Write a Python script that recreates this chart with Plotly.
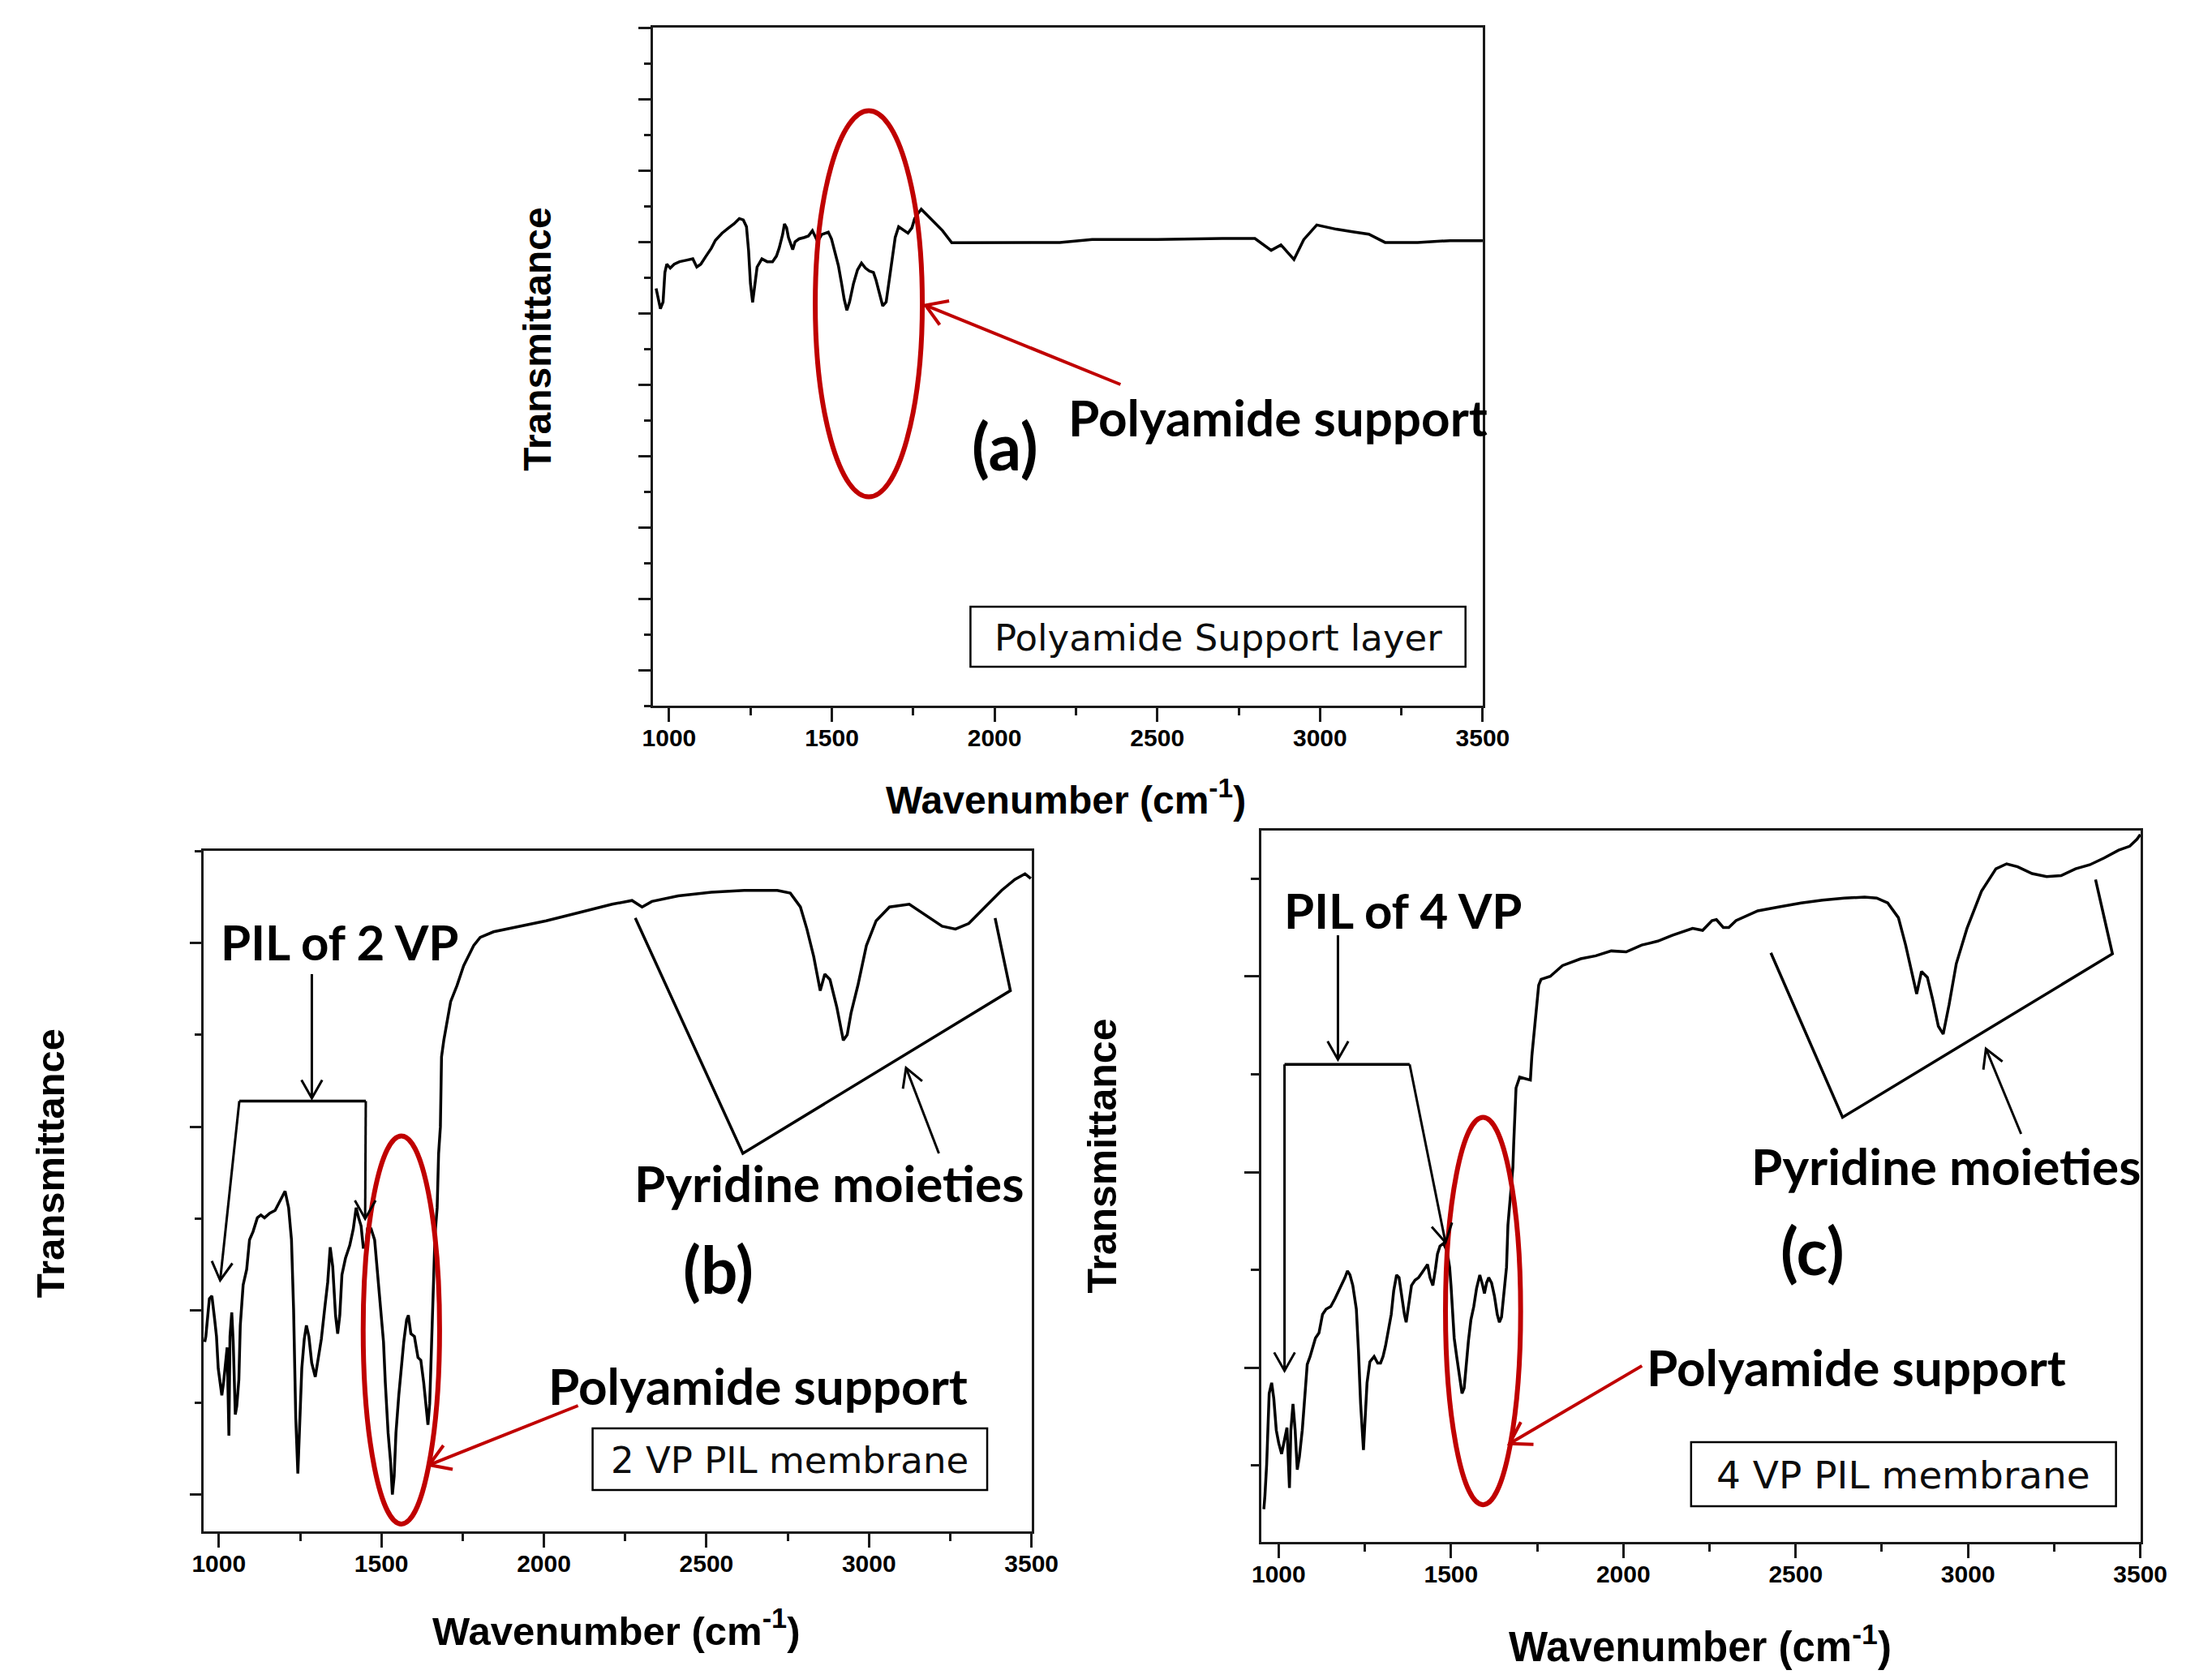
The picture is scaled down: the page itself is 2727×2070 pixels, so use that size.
import math
import plotly.graph_objects as go

# ---------------- data ----------------
wn_a = [960, 966.6, 973.2, 981.3, 987, 992.8, 1003.4, 1015.6, 1032, 1052.4, 1072.8, 1085, 1097.3, 1113.6,
        1129.9, 1142.2, 1162.6, 1183, 1199.3, 1215.6, 1227.9, 1237.7, 1244.2, 1249.9, 1256.5, 1263, 1270.3,
        1285, 1301.4, 1317.7, 1329.9, 1338.1, 1348.7, 1354.4, 1361, 1366.7, 1373.2, 1379.7, 1387.1, 1399.3,
        1415.6, 1427.9, 1440.2, 1448.3, 1456.5, 1468.7, 1489.1, 1498.9, 1509.5, 1520.1, 1529.9, 1538.1,
        1546.2, 1554.4, 1566.6, 1578.8, 1591.1, 1603.3, 1615.5, 1627.8, 1635.9, 1644.1, 1656.3, 1666.9,
        1675.1, 1684.9, 1694.7, 1705.3, 1717.6, 1733.9, 1746.1, 1754.3, 1762.4, 1774.7, 1791, 1815.5, 1840,
        1868.5, 1888.9, 2000, 2200, 2300, 2500, 2700, 2800, 2850, 2880, 2920, 2950, 2990, 3050, 3100, 3150,
        3200, 3300, 3400, 3500]
tr_a = [10.69, 10.38, 10.12, 10.31, 11.14, 11.37, 11.26, 11.37, 11.44, 11.48, 11.52, 11.29, 11.37, 11.60,
        11.82, 12.04, 12.24, 12.39, 12.50, 12.65, 12.61, 12.42, 11.74, 10.83, 10.30, 10.76, 11.29, 11.52,
        11.44, 11.44, 11.60, 11.82, 12.20, 12.50, 12.39, 12.12, 11.93, 11.78, 12.00, 12.08, 12.12, 12.16,
        12.31, 12.16, 12.00, 12.20, 12.27, 12.08, 11.74, 11.33, 10.83, 10.38, 10.08, 10.31, 10.83, 11.21,
        11.40, 11.26, 11.18, 11.14, 10.92, 10.61, 10.20, 10.31, 10.83, 11.44, 12.12, 12.42, 12.35, 12.24,
        12.39, 12.65, 12.76, 12.91, 12.76, 12.54, 12.31, 11.97, 11.97, 11.98, 11.98, 12.06, 12.06, 12.09,
        12.09, 11.76, 11.91, 11.50, 12.06, 12.47, 12.35, 12.28, 12.21, 11.98, 11.98, 12.03, 12.03]

wn_b = [956.6, 959.9, 970.8, 978.5, 987.2, 992.7, 998.1, 1003.6, 1009.1, 1014.5, 1020, 1025.5, 1030.9,
        1034.2, 1039.7, 1044.1, 1050.6, 1055, 1061.5, 1065.9, 1074.7, 1085.6, 1094.3, 1105.3, 1118.4, 1129.3,
        1140.3, 1156.7, 1173.1, 1189.5, 1203.7, 1214.6, 1223.4, 1229.9, 1236.5, 1243, 1249.6, 1255.1, 1262.7,
        1269.3, 1276.9, 1285.7, 1296.6, 1304.3, 1315.2, 1326.1, 1334.9, 1342.5, 1350.2, 1358.9, 1365.5, 1372,
        1378.6, 1389.5, 1402.7, 1413.6, 1422.3, 1430, 1437.6, 1444.2, 1451.8, 1457.3, 1468.3, 1479.2, 1484.6,
        1490.1, 1498.9, 1506.5, 1512, 1520.7, 1528.4, 1533.8, 1539.3, 1544.8, 1553.5, 1561.2, 1568.8, 1577.6,
        1583, 1590.7, 1601.6, 1612.6, 1621.3, 1630.1, 1637.7, 1643.2, 1648.6, 1656.3, 1665, 1671.6, 1676,
        1681.5, 1685, 1692, 1713, 1733, 1753, 1784, 1804, 1845, 1926, 2007, 2109, 2210, 2271, 2302, 2332,
        2413, 2515, 2616, 2718, 2758, 2789, 2809, 2830, 2850, 2864, 2880, 2901, 2921, 2933, 2945, 2966, 2992,
        3022, 3063, 3124, 3175, 3225, 3266, 3307, 3357, 3408, 3449, 3480, 3498]
tr_b = [1.66, 1.72, 2.13, 2.16, 1.90, 1.72, 1.37, 1.19, 1.08, 1.22,
        1.43, 1.60, 0.64, 1.72, 1.98, 1.66, 0.87, 0.96, 1.25, 1.84,
        2.28, 2.45, 2.77, 2.86, 3.01, 3.04, 3.01, 3.06, 3.09, 3.21,
        3.30, 3.12, 2.77, 2.01, 0.84, 0.23, 0.81, 1.37, 1.69, 1.84,
        1.72, 1.43, 1.28, 1.46, 1.69, 2.04, 2.31, 2.69, 2.48, 1.95,
        1.75, 1.95, 2.39, 2.57, 2.71, 2.89, 3.12, 3.01, 2.92, 2.69,
        2.69, 2.89, 2.89, 2.77, 2.54, 2.33, 2.01, 1.66, 1.22, 0.67,
        0.35, 0.00, 0.20, 0.67, 1.08, 1.40, 1.66, 1.90, 1.95, 1.75,
        1.72, 1.49, 1.46, 1.22, 0.96, 0.76, 0.99, 1.95, 2.83, 3.12,
        3.71, 4.00,
        4.76, 4.94, 5.36, 5.54, 5.75, 5.97, 6.06, 6.12, 6.18, 6.24,
        6.33, 6.42, 6.46, 6.39, 6.45, 6.51, 6.55, 6.57, 6.57, 6.54,
        6.39, 6.15, 5.85, 5.48, 5.66, 5.60, 5.30, 4.94, 5.00, 5.24,
        5.54, 5.97, 6.24, 6.39, 6.42, 6.30, 6.18, 6.15, 6.21, 6.39,
        6.57, 6.69, 6.75, 6.70]

wn_c = [957.0, 960.1, 965.2, 972.5, 979.7, 985.9, 993.1, 1000.3, 1008.6, 1016.9, 1024.1, 1031.3, 1035.4,
        1041.6, 1047.8, 1054, 1060.2, 1068.5, 1075.7, 1082.9, 1091.2, 1099.4, 1106.7, 1117, 1127.3, 1137.6,
        1151.1, 1163.5, 1178.9, 1192.4, 1199.6, 1206.8, 1215.1, 1225.4, 1231.6, 1237.8, 1246, 1251.2, 1256.4,
        1264.6, 1277, 1287.3, 1295.6, 1302.8, 1310, 1318.3, 1326.6, 1333.8, 1342.1, 1349.3, 1357.5, 1364.8,
        1369.9, 1377.2, 1385.4, 1395.7, 1406.1, 1416.4, 1426.7, 1431.9, 1439.1, 1447.4, 1454.6, 1460.8, 1468,
        1478.3, 1488.7, 1495.9, 1500, 1504.1, 1509.3, 1516.5, 1524.8, 1532, 1538.2, 1543.4, 1550.6, 1557.8,
        1566.1, 1574.3, 1583.6, 1591.9, 1597, 1603.3, 1609.4, 1617.7, 1626, 1634.2, 1640.4, 1646.6, 1653.8,
        1661.1, 1665.2, 1673.5, 1679.6,
        1681.8, 1688.7, 1699.3, 1730.3, 1734.7, 1743.7, 1754.4, 1761.3, 1787.9, 1823.3, 1876.5, 1920, 1964.9,
        2008.3, 2053.4, 2100, 2142, 2201, 2230, 2257, 2270, 2290, 2306, 2327, 2390, 2453, 2516, 2578, 2641,
        2700, 2735, 2767, 2798, 2819, 2840, 2851, 2865, 2882, 2897, 2914, 2928, 2945, 2966, 2997, 3039, 3081,
        3112, 3144, 3186, 3228, 3270, 3312, 3353, 3395, 3437, 3469, 3490, 3500]
tr_c = [-0.445, -0.31, 0.012, 0.738, 0.846, 0.685, 0.362, 0.228, 0.120, 0.254, 0.389, -0.229, 0.362, 0.631,
        0.362, -0.041, 0.093, 0.362, 0.712, 1.034, 1.115, 1.222, 1.303, 1.357, 1.545, 1.599, 1.626, 1.707,
        1.814, 1.922, 1.989, 1.949, 1.841, 1.599, 1.169, 0.631, 0.160, 0.496, 0.846, 1.061, 1.115, 1.048,
        1.048, 1.115, 1.222, 1.384, 1.545, 1.787, 1.948, 1.922, 1.707, 1.545, 1.465, 1.626, 1.841, 1.895,
        1.922, 1.975, 2.029, 2.056, 1.922, 1.841, 2.002, 2.164, 2.244, 2.271, 2.191, 2.029, 1.841, 1.572,
        1.303, 1.115, 0.927, 0.738, 0.792, 1.007, 1.276, 1.491, 1.626, 1.814, 1.948, 1.841, 1.760, 1.868,
        1.922, 1.868, 1.733, 1.545, 1.465, 1.518, 1.760, 2.029, 2.459, 2.809, 3.05,
        3.28, 3.86, 3.97, 3.94, 4.19, 4.52, 4.91, 4.97, 5.00, 5.11, 5.18, 5.21, 5.26, 5.25, 5.32, 5.36, 5.42,
        5.49, 5.47, 5.57, 5.58, 5.50, 5.50, 5.57, 5.67, 5.71, 5.75, 5.78, 5.80, 5.81, 5.80, 5.75, 5.60, 5.32,
        4.99, 4.82, 5.05, 4.99, 4.77, 4.49, 4.41, 4.71, 5.13, 5.49, 5.87, 6.10, 6.15, 6.12, 6.05, 6.02, 6.03,
        6.10, 6.14, 6.21, 6.29, 6.33, 6.40, 6.45]

x_tick_values = [1000, 1500, 2000, 2500, 3000, 3500]
x_tick_labels = ["1000", "1500", "2000", "2500", "3000", "3500"]

assert len(wn_a) == len(tr_a) and len(wn_b) == len(tr_b) and len(wn_c) == len(tr_c)

# ---------------- layout geometry ----------------
W, H = 2727, 2070
RED = "#C00000"
INK = "#1a1a1a"
PANELS = {
    "a": dict(L=797, R=1838, T=26, B=862, xr=(951, 3501), yr=(-1, 18), ax="", maj0=0, ymaj=16, ymin=9),
    "b": dict(L=233, R=1272, T=1041, B=1880, xr=(953, 3501), yr=(-0.4, 7.0), ax="2", maj0=0, ymaj=14, ymin=8),
    "c": dict(L=1560, R=2663, T=1016, B=1893, xr=(950, 3501), yr=(-0.78, 6.49), ax="3", maj0=1, ymaj=18, ymin=10),
}


def PX(x):
    return x / W


def PY(y):
    return 1 - y / H


def to_px(p, x, y):
    x0, x1 = p["xr"]
    y0, y1 = p["yr"]
    return (p["L"] + (x - x0) / (x1 - x0) * (p["R"] - p["L"]),
            p["B"] - (y - y0) / (y1 - y0) * (p["B"] - p["T"]))


def to_data(p, px, py):
    x0, x1 = p["xr"]
    y0, y1 = p["yr"]
    return (x0 + (px - p["L"]) / (p["R"] - p["L"]) * (x1 - x0),
            y0 + (p["B"] - py) / (p["B"] - p["T"]) * (y1 - y0))


shapes = []
annotations = []


def seg(p, pts, color, width):
    path = "M " + " L ".join(f"{x:.3f},{y:.4f}" for x, y in pts)
    shapes.append(dict(type="path", path=path, xref="x" + p["ax"], yref="y" + p["ax"],
                       line=dict(color=color, width=width), layer="above"))


def arrow(p, start, end, color, width, head=26, ang=30):
    seg(p, [start, end], color, width)
    sx, sy = to_px(p, *start)
    ex, ey = to_px(p, *end)
    dx, dy = sx - ex, sy - ey
    n = math.hypot(dx, dy)
    dx, dy = dx / n, dy / n
    wings = []
    for s in (1, -1):
        a = math.radians(ang * s)
        wx = dx * math.cos(a) - dy * math.sin(a)
        wy = dx * math.sin(a) + dy * math.cos(a)
        wings.append(to_data(p, ex + head * wx, ey + head * wy))
    seg(p, [wings[0], end, wings[1]], color, width)


def ellipse(p, x0, x1, y0, y1):
    shapes.append(dict(type="circle", xref="x" + p["ax"], yref="y" + p["ax"], x0=x0, x1=x1, y0=y0, y1=y1,
                       line=dict(color=RED, width=6), layer="above"))


def label(text, cx, cy, size, family="Lato", weight="bold", angle=0, color="black"):
    annotations.append(dict(text=text, x=PX(cx), y=PY(cy), xref="paper", yref="paper",
                            xanchor="center", yanchor="middle", showarrow=False, textangle=angle,
                            font=dict(family=family, size=size, color=color, weight=weight)))


def box(text, l, r, t, b, size):
    shapes.append(dict(type="rect", xref="paper", yref="paper", x0=PX(l), x1=PX(r), y0=PY(b), y1=PY(t),
                       line=dict(color="black", width=2.5), fillcolor="rgba(0,0,0,0)", layer="above"))
    label(text, (l + r) / 2, (t + b) / 2 + 1, size, family="DejaVu Sans", weight="normal", color="#0d0d0d")


fig = go.Figure()
for key, wn, tr in (("a", wn_a, tr_a), ("b", wn_b, tr_b), ("c", wn_c, tr_c)):
    p = PANELS[key]
    fig.add_trace(go.Scatter(x=wn, y=tr, mode="lines", line=dict(color="black", width=3.5),
                             xaxis="x" + p["ax"], yaxis="y" + p["ax"], showlegend=False, hoverinfo="skip"))

layout_axes = {}
for key, p in PANELS.items():
    xname = "xaxis" + p["ax"]
    yname = "yaxis" + p["ax"]
    layout_axes[xname] = dict(
        domain=[p["L"] / W, p["R"] / W], range=list(p["xr"]), anchor="y" + p["ax"],
        showline=True, linecolor=INK, linewidth=2.5, mirror=True, showgrid=False, zeroline=False,
        ticks="outside", ticklen=17, tickwidth=2.5, tickcolor=INK,
        tickmode="array", tickvals=x_tick_values, ticktext=x_tick_labels,
        tickfont=dict(family="Liberation Sans", size=30, color="black", weight="bold"),
        ticklabelstandoff=-6,
        minor=dict(ticks="outside", ticklen=9, tickwidth=2.5, tickcolor=INK, tickmode="linear",
                   tick0=1250, dtick=500),
        fixedrange=True,
    )
    layout_axes[yname] = dict(
        domain=[1 - p["B"] / H, 1 - p["T"] / H], range=list(p["yr"]), anchor="x" + p["ax"],
        showline=True, linecolor=INK, linewidth=2.5, mirror=True, showgrid=False, zeroline=False,
        ticks="outside", ticklen=p["ymaj"], tickwidth=2.5, tickcolor=INK,
        tickmode="linear", tick0=p["maj0"], dtick=2, showticklabels=False,
        minor=dict(ticks="outside", ticklen=p["ymin"], tickwidth=2.5, tickcolor=INK, tickmode="linear",
                   tick0=p["maj0"] + 1, dtick=2),
        fixedrange=True,
    )

# ---------------- panel (a) annotations ----------------
pa = PANELS["a"]
ellipse(pa, 1449, 1778, 4.85, 15.67)
arrow(pa, (2387, 8.0), (1788, 10.22), RED, 4, head=30, ang=32)
label("Polyamide support", 1581, 506, 62)
label("(a)", 1238, 541, 80)
box("Polyamide Support layer", 1195, 1816, 740, 814, 45)
label("Transmittance", 651, 410, 48, family="Liberation Sans", angle=-90)
label("Wavenumber (cm<sup>-1</sup>)", 1315, 975, 48, family="Liberation Sans")

# ---------------- panel (b) annotations ----------------
pb = PANELS["b"]
ellipse(pb, 1444, 1679, -0.32, 3.90)
arrow(pb, (2105, 0.967), (1647, 0.323), RED, 4, head=30, ang=32)
arrow(pb, (1286, 5.66), (1286, 4.31), "black", 3)
seg(pb, [(1063, 4.28), (1452, 4.28)], "black", 3.5)
arrow(pb, (1063, 4.28), (1004, 2.33), "black", 3)
arrow(pb, (1452, 4.28), (1450, 3.0), "black", 3)
seg(pb, [(2281, 6.27), (2612, 3.71), (3435, 5.48), (3388, 6.27)], "black", 3.5)
arrow(pb, (3215, 3.71), (3114, 4.64), "black", 3)
label("PIL of 2 VP", 404, 1153, 60)
label("(b)", 879, 1556, 80)
label("Pyridine moieties", 1018, 1450, 62)
label("Polyamide support", 928, 1700, 62)
box("2 VP PIL membrane", 721, 1216, 1753, 1829, 45)
label("Transmittance", 41, 1426, 49, family="Liberation Sans", angle=-90)
label("Wavenumber (cm<sup>-1</sup>)", 750, 1999, 49, family="Liberation Sans")

# ---------------- panel (c) annotations ----------------
pc = PANELS["c"]
ellipse(pc, 1484, 1702, -0.40, 3.56)
arrow(pc, (2054, 1.02), (1670, 0.225), RED, 4, head=30, ang=32)
arrow(pc, (1172, 5.42), (1172, 4.15), "black", 3)
seg(pc, [(1017, 4.10), (1380, 4.10)], "black", 3.5)
arrow(pc, (1017, 4.10), (1017, 0.97), "black", 3)
arrow(pc, (1380, 4.10), (1484, 2.28), "black", 3)
seg(pc, [(2428, 5.24), (2636, 3.56), (3419, 5.23), (3370, 5.99)], "black", 3.5)
arrow(pc, (3154, 3.39), (3052, 4.26), "black", 3)
label("PIL of 4 VP", 1738, 1114, 60)
label("(c)", 2251, 1533, 80)
label("Pyridine moieties", 2419, 1429, 62)
label("Polyamide support", 2306, 1677, 62)
box("4 VP PIL membrane", 2099, 2632, 1770, 1849, 47)
label("Transmittance", 1360, 1417, 50, family="Liberation Sans", angle=-90)
label("Wavenumber (cm<sup>-1</sup>)", 2110, 2019, 51, family="Liberation Sans")

fig.update_layout(
    width=W, height=H, margin=dict(l=0, r=0, t=0, b=0),
    paper_bgcolor="white", plot_bgcolor="white", showlegend=False,
    shapes=shapes, annotations=annotations, **layout_axes,
)

fig.write_html("out.html", config=dict(displayModeBar=False))
